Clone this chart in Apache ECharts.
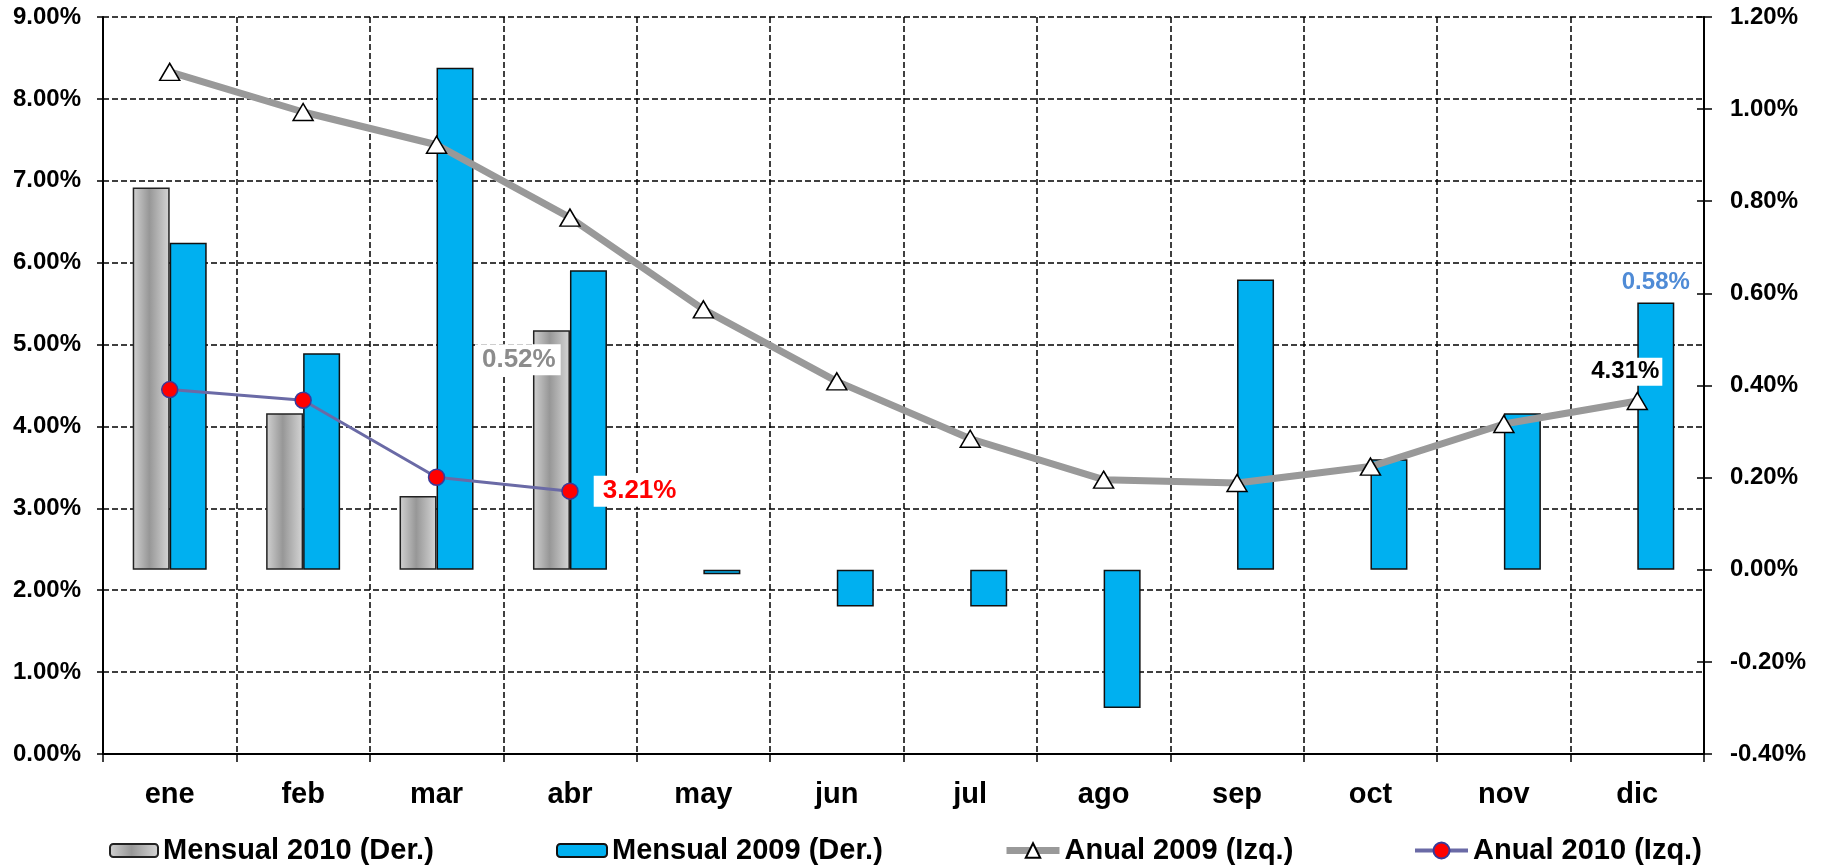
<!DOCTYPE html>
<html>
<head>
<meta charset="utf-8">
<script src="https://cdn.jsdelivr.net/npm/echarts@6/dist/echarts.min.js"></script>
<style>
html,body{margin:0;padding:0;background:#fff;}
#chart{width:1824px;height:866px;}
</style>
</head>
<body>
<div id="chart"></div>
<script>
const months = ['ene','feb','mar','abr','may','jun','jul','ago','sep','oct','nov','dic'];
const mensual2010 = [0.83, 0.34, 0.16, 0.52, null, null, null, null, null, null, null, null];
const mensual2009 = [0.71, 0.47, 1.09, 0.65, -0.01, -0.08, -0.08, -0.30, 0.63, 0.24, 0.34, 0.58];
const anual2009 = [8.33, 7.84, 7.44, 6.55, 5.43, 4.55, 3.85, 3.35, 3.31, 3.51, 4.03, 4.31];
const anual2010 = [4.45, 4.32, 3.38, 3.21];
const leftAxis = {min: 0, max: 9, interval: 1};
const rightAxis = {min: -0.4, max: 1.2, interval: 0.2};
const seriesNames = ['Mensual 2010 (Der.)', 'Mensual 2009 (Der.)', 'Anual 2009 (Izq.)', 'Anual 2010 (Izq.)'];

const FONT = "'Liberation Sans', Arial, sans-serif";
const pct = v => (Math.abs(v) < 1e-9 ? 0 : v).toFixed(2) + '%';

const chart = echarts.init(document.getElementById('chart'));

const grayGrad = new echarts.graphic.LinearGradient(0, 0, 1, 0, [
  {offset: 0, color: '#d2d2d2'},
  {offset: 0.45, color: '#979797'},
  {offset: 1, color: '#d6d6d6'}
]);

const m2010Data = mensual2010.map((v, i) => {
  if (i === 3) {
    return {value: v, label: {show: true, formatter: p => pct(p.value), position: [-58, 14],
      align: 'left', verticalAlign: 'top', color: '#8c8c8c', fontSize: 26, fontWeight: 'bold',
      fontFamily: FONT, backgroundColor: '#fff', padding: [3, 5, 2, 7]}};
  }
  return v;
});
const m2009Data = mensual2009.map((v, i) => {
  if (i === mensual2009.length - 1) {
    return {value: v, label: {show: true, formatter: p => pct(p.value), position: 'top', distance: 8,
      color: '#4f8bd6', fontSize: 24, fontWeight: 'bold', fontFamily: FONT}};
  }
  return v;
});
const a2009Data = anual2009.map((v, i) => {
  if (i === anual2009.length - 1) {
    return {value: v, label: {show: true, formatter: p => pct(p.value), position: 'top', distance: 6,
      offset: [-12, 0], color: '#000', fontSize: 24, fontWeight: 'bold', fontFamily: FONT,
      backgroundColor: '#fff', padding: [2, 3]}};
  }
  return v;
});
const a2010Data = anual2010.map((v, i) => {
  if (i === anual2010.length - 1) {
    return {value: v, label: {show: true, formatter: p => pct(p.value), position: 'right', distance: 15,
      color: '#ff0000', fontSize: 26, fontWeight: 'bold', fontFamily: FONT,
      backgroundColor: '#fff', padding: [3, 6, 2, 9]}};
  }
  return v;
});

const legendText = {fontSize: 29, fontWeight: 'bold', fontFamily: FONT, color: '#000'};
function mkLegend(name, left, w, h, extra) {
  return Object.assign({data: [name], left: left, top: 836, itemWidth: w, itemHeight: h,
    textStyle: legendText, selectedMode: false, padding: 0, itemGap: 0}, extra || {});
}

const option = {
  backgroundColor: '#fff',
  animation: false,
  textStyle: {fontFamily: FONT},
  grid: {left: 103, right: 120, top: 17, bottom: 112, containLabel: false},
  legend: [
    mkLegend(seriesNames[0], 109, 48, 13),
    mkLegend(seriesNames[1], 556, 50, 13),
    mkLegend(seriesNames[2], 1003, 53, 18, {lineStyle: {width: 7, color: '#999999'}}),
    mkLegend(seriesNames[3], 1413, 53, 20, {lineStyle: {width: 4, color: '#6a6aa6'}})
  ],
  xAxis: {
    type: 'category', data: months, boundaryGap: true,
    axisLine: {lineStyle: {color: '#000', width: 2}},
    axisTick: {show: true, length: 8, lineStyle: {color: '#000', width: 1.5}},
    axisLabel: {color: '#000', fontSize: 29, fontWeight: 'bold', fontFamily: FONT, margin: 26},
    splitLine: {show: true, lineStyle: {color: '#000', type: [6, 3], width: 1.5}}
  },
  yAxis: [
    {
      type: 'value', position: 'left', min: leftAxis.min, max: leftAxis.max, interval: leftAxis.interval,
      axisLine: {show: true, lineStyle: {color: '#000', width: 2}},
      axisTick: {show: true, length: 6, lineStyle: {color: '#000', width: 1.5}},
      axisLabel: {formatter: pct, color: '#000', fontSize: 24, fontWeight: 'bold', fontFamily: FONT,
        margin: 22, padding: [8, 0, 0, 0]},
      splitLine: {show: true, lineStyle: {color: '#000', type: [6, 3], width: 1.5}}
    },
    {
      type: 'value', position: 'right', min: rightAxis.min, max: rightAxis.max, interval: rightAxis.interval,
      axisLine: {show: true, lineStyle: {color: '#000', width: 2}},
      axisTick: {show: true, length: 8, lineStyle: {color: '#000', width: 1.5}},
      axisLabel: {formatter: pct, color: '#000', fontSize: 24, fontWeight: 'bold', fontFamily: FONT,
        margin: 26, padding: [6, 0, 0, 0]},
      splitLine: {show: false}
    },
    {
      type: 'value', position: 'right', min: rightAxis.min, max: rightAxis.max, interval: rightAxis.interval,
      axisLine: {show: false},
      axisTick: {show: true, inside: true, length: 7, lineStyle: {color: '#000', width: 1.5}},
      axisLabel: {show: false},
      splitLine: {show: false}
    }
  ],
  series: [
    {
      name: seriesNames[0], type: 'bar', yAxisIndex: 1, data: m2010Data,
      barWidth: 37, barGap: '0%',
      itemStyle: {color: grayGrad, borderColor: '#222', borderWidth: 1.5},
      z: 2
    },
    {
      name: seriesNames[1], type: 'bar', yAxisIndex: 1, data: m2009Data,
      barWidth: 37, barGap: '0%',
      itemStyle: {color: '#00b0f0', borderColor: '#111', borderWidth: 1.5},
      z: 2
    },
    {
      name: seriesNames[2], type: 'line', yAxisIndex: 0, data: a2009Data,
      symbol: 'triangle', symbolSize: [20, 17],
      lineStyle: {color: '#999999', width: 7},
      itemStyle: {color: '#ffffff', borderColor: '#000', borderWidth: 1.5},
      z: 4
    },
    {
      name: seriesNames[3], type: 'line', yAxisIndex: 0, data: a2010Data,
      symbol: 'circle', symbolSize: 16,
      lineStyle: {color: '#6a6aa6', width: 3},
      itemStyle: {color: '#ff0000', borderColor: '#3a3a9a', borderWidth: 1.5},
      z: 5
    }
  ]
};
chart.setOption(option);
</script>
</body>
</html>
